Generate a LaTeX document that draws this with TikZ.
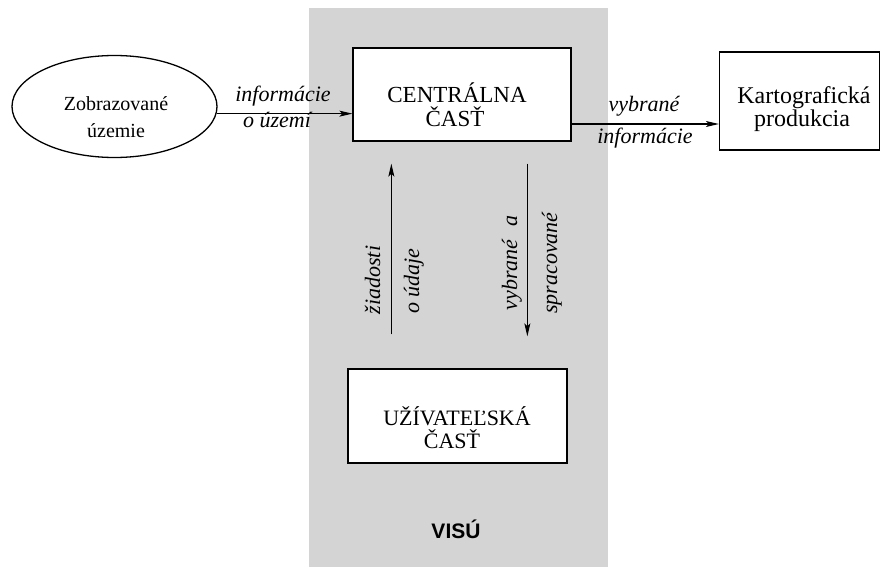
\documentclass[tikz,border=0pt]{standalone}
\usepackage{fontspec}
\setmainfont{Liberation Serif}
\newfontfamily\visfont{Liberation Sans}
\usetikzlibrary{arrows.meta,shapes.geometric,calc}
\definecolor{bggray}{gray}{0.83}
\begin{document}
\begin{tikzpicture}[x=1pt,y=-1pt,
  boxst/.style={draw, line width=1.3pt, fill=white, inner sep=0pt},
  txt/.style={anchor=base, inner sep=0pt, font=\fontsize{22}{26}\selectfont},
  lbl/.style={anchor=base, inner sep=0pt, font=\fontsize{22}{26}\selectfont\itshape},
  arr/.style={line width=1.1pt, -{Stealth[length=13pt,width=6pt,inset=3pt]}}
]
\useasboundingbox (0,0) rectangle (883,567);
\fill[bggray] (309,8) rectangle (608,567);

% nodes
\node[ellipse, draw, line width=1.3pt, minimum width=205pt, minimum height=102pt, inner sep=0pt] (ell) at (114.5,106.5) {};
\node[boxst, minimum width=218pt, minimum height=93pt] (cbox) at (462,94.5) {};
\node[boxst, minimum width=160pt, minimum height=98pt] (kbox) at (799.5,101) {};
\node[boxst, minimum width=219pt, minimum height=94pt] (ubox) at (457.5,416) {};

% texts in nodes
\node[txt, font=\fontsize{20}{26}\selectfont] (t1) at (116,111) {Zobrazované};
\node[txt, font=\fontsize{20}{26}\selectfont] (t2) at (116,137) {územie};
\node[txt, font=\fontsize{23}{26}\selectfont] (t3) at (457,103) {CENTRÁLNA};
\node[txt, font=\fontsize{23}{26}\selectfont] (t4) at (455,127) {ČASŤ};
\node[txt, font=\fontsize{24}{26}\selectfont] (t5) at (804,104) {Kartografická};
\node[txt, font=\fontsize{24}{26}\selectfont] (t6) at (802,127) {produkcia};
\node[txt] (t7) at (457,425) {UŽÍVATEĽSKÁ};
\node[txt] (t8) at (452,448) {ČASŤ};
\node[anchor=base, inner sep=0pt, font=\visfont\bfseries\fontsize{21}{24}\selectfont] (vis) at (456,538) {VISÚ};

% connectors
\draw[arr] (ell.-4) -- (ell.-4 -| cbox.west);
\draw[arr] ([yshift=-29.5pt]cbox.east) -- ([yshift=-29.5pt]cbox.east -| kbox.west);
\draw[arr] ($(ubox.north west)+(44,-34)$) -- ($(cbox.south west)+(39,22)$);
\draw[arr] ($(cbox.south west)+(175,22)$) -- ($(ubox.north west)+(180,-32)$);

% connector labels
\node[lbl] (l1) at (283,102) {informácie};
\node[lbl] (l2) at (277,128) {o území};
\node[lbl] (l3) at (644,112) {vybrané};
\node[lbl] (l4) at (645,143) {informácie};
\node[lbl, rotate=90] (l5) at (380,280) {žiadosti};
\node[lbl, rotate=90] (l6) at (419,281) {o údaje};
\node[lbl, rotate=90] (l7) at (517,263) {vybrané\hspace{0.6em}a};
\node[lbl, rotate=90] (l8) at (557,263) {spracované};
\end{tikzpicture}
\end{document}
